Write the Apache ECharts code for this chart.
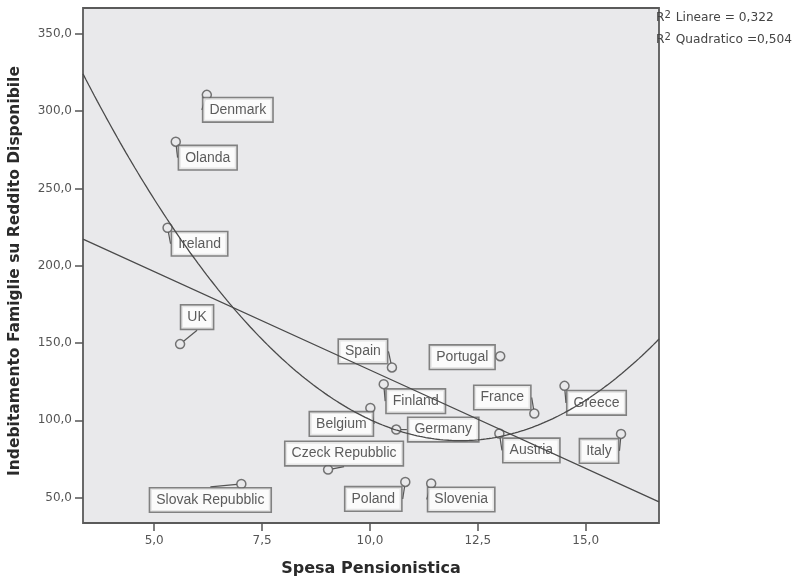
<!DOCTYPE html>
<html>
<head>
<meta charset="utf-8">
<script src="https://cdn.jsdelivr.net/npm/echarts@6/dist/echarts.min.js"></script>
<style>
  html, body { margin: 0; padding: 0; background: #ffffff; }
  #chart { width: 797px; height: 576px; }
</style>
</head>
<body>
<div id="chart"></div>
<script>
// Country observations: pension spending vs household debt on disposable income
const countries = ['Denmark', 'Olanda', 'Ireland', 'UK', 'Slovak Repubblic', 'Czeck Repubblic',
  'Belgium', 'Germany', 'Poland', 'Slovenia', 'France', 'Greece', 'Austria', 'Italy',
  'Spain', 'Portugal', 'Finland'];
const pensionSpending = [6.22, 5.50, 5.31, 5.60, 7.02, 9.03, 10.01, 10.61, 10.82, 11.42,
  13.81, 14.51, 13.00, 15.82, 10.51, 13.02, 10.32];
const householdDebt = [310.6, 280.3, 224.6, 149.3, 58.8, 68.1, 108.0, 94.0, 60.1, 59.1,
  104.4, 122.3, 91.5, 91.2, 134.2, 141.5, 123.4];

const xTicks = [5, 7.5, 10, 12.5, 15];
const yTicks = [50, 100, 150, 200, 250, 300, 350];

const r2Linear = '0,322';
const r2Quadratic = '0,504';

// Label box placement (pixel offset of each label centre from its point)
const labelOffsets = {
  'Denmark': [31, 15], 'Olanda': [32, 16], 'Ireland': [32, 16], 'UK': [17, -27],
  'Slovak Repubblic': [-31, 16], 'Czeck Repubblic': [16, -16], 'Belgium': [-29, 16],
  'Germany': [47, 0], 'Poland': [-32, 17], 'Slovenia': [30, 16], 'France': [-32, -16],
  'Greece': [32, 17], 'Austria': [32, 17], 'Italy': [-22, 17], 'Spain': [-29, -16],
  'Portugal': [-38, 1], 'Finland': [32, 17]
};

const X_MIN = 3.35, X_MAX = 16.7, Y_MIN = 33.55, Y_MAX = 366.8;

// Least-squares polynomial fit of given degree (normal equations)
function polyFit(xs, ys, degree) {
  const n = degree + 1;
  const A = Array.from({ length: n }, () => new Array(n + 1).fill(0));
  for (let k = 0; k < xs.length; k++) {
    for (let i = 0; i < n; i++) {
      for (let j = 0; j < n; j++) A[i][j] += Math.pow(xs[k], i + j);
      A[i][n] += ys[k] * Math.pow(xs[k], i);
    }
  }
  for (let c = 0; c < n; c++) {
    let p = c;
    for (let r = c + 1; r < n; r++) if (Math.abs(A[r][c]) > Math.abs(A[p][c])) p = r;
    [A[c], A[p]] = [A[p], A[c]];
    for (let r = 0; r < n; r++) {
      if (r === c) continue;
      const f = A[r][c] / A[c][c];
      for (let j = c; j <= n; j++) A[r][j] -= f * A[c][j];
    }
  }
  return A.map((row, i) => row[n] / row[i]);
}
function evalPoly(coef, x) {
  return coef.reduce((s, c, i) => s + c * Math.pow(x, i), 0);
}
function fitCurve(coef, steps) {
  const pts = [];
  for (let i = 0; i <= steps; i++) {
    const x = X_MIN + (X_MAX - X_MIN) * i / steps;
    pts.push([x, evalPoly(coef, x)]);
  }
  return pts;
}

const linCoef = polyFit(pensionSpending, householdDebt, 1);
const quadCoef = polyFit(pensionSpending, householdDebt, 2);

const points = countries.map((name, i) => ({ name, value: [pensionSpending[i], householdDebt[i]] }));

const fmt = v => v.toFixed(1).replace('.', ',');
const labelFont = '"Liberation Sans", Arial, sans-serif';
const axisFont = '"DejaVu Sans", Verdana, sans-serif';

const r2Rich = {
  s: { fontFamily: axisFont, fontSize: 12.2, fill: '#444' },
  sup: { fontFamily: axisFont, fontSize: 10, fill: '#444', padding: [0, 1, 6, 0] }
};

const chart = echarts.init(document.getElementById('chart'), null, { renderer: 'canvas' });
chart.setOption({
  animation: false,
  backgroundColor: '#ffffff',
  grid: {
    left: 83, right: 138, top: 8, bottom: 53,
    outerBoundsMode: 'none',
    show: true, backgroundColor: '#e9e9eb', borderColor: '#5a5a5a', borderWidth: 1.8
  },
  xAxis: {
    type: 'value', min: X_MIN, max: X_MAX,
    name: 'Spesa Pensionistica', nameLocation: 'middle', nameGap: 38,
    nameTextStyle: { fontFamily: axisFont, fontSize: 16, fontWeight: 'bold', color: '#2a2a2a' },
    axisLine: { show: false },
    splitLine: { show: false },
    axisTick: { show: true, customValues: xTicks, length: 8, lineStyle: { color: '#555', width: 1.5 } },
    axisLabel: { customValues: xTicks, formatter: fmt, fontFamily: axisFont, fontSize: 12, color: '#555', margin: 12 }
  },
  yAxis: {
    type: 'value', min: Y_MIN, max: Y_MAX,
    axisLine: { show: false },
    splitLine: { show: false },
    axisTick: { show: true, customValues: yTicks, length: 8, lineStyle: { color: '#555', width: 1.5 } },
    axisLabel: { customValues: yTicks, formatter: fmt, fontFamily: axisFont, fontSize: 12, color: '#555', margin: 11 }
  },
  series: [
    {
      type: 'scatter', data: points, symbol: 'circle', symbolSize: 9,
      itemStyle: { color: '#e9e9eb', borderColor: '#555', borderWidth: 1.5 },
      z: 2,
      label: {
        show: true, position: 'inside', formatter: p => p.name,
        fontFamily: labelFont, fontSize: 14, lineHeight: 16, color: '#333',
        backgroundColor: '#ffffff', borderColor: '#666', borderWidth: 1.6,
        padding: [4, 6, 3, 6]
      },
      labelLine: { show: true, lineStyle: { color: '#555', width: 1.2 } },
      labelLayout: p => {
        const off = labelOffsets[countries[p.dataIndex]] || [0, 0];
        return { dx: off[0], dy: off[1] };
      }
    },
    {
      type: 'line', data: fitCurve(linCoef, 2), showSymbol: false, silent: true,
      lineStyle: { color: '#4a4a4a', width: 1.3 }, z: 5
    },
    {
      type: 'line', data: fitCurve(quadCoef, 200), showSymbol: false, silent: true,
      lineStyle: { color: '#4a4a4a', width: 1.3 }, z: 5
    }
  ],
  graphic: [
    {
      type: 'text', x: 15, y: 271, rotation: Math.PI / 2,
      style: {
        text: 'Indebitamento Famiglie su Reddito Disponibile',
        fontFamily: axisFont, fontSize: 15.5, fontWeight: 'bold', fill: '#2a2a2a',
        align: 'center', verticalAlign: 'middle'
      }
    },
    {
      type: 'text', x: 656, y: 18,
      style: { text: '{s|R}{sup|2}{s| Lineare = ' + r2Linear + '}', rich: r2Rich, verticalAlign: 'middle' }
    },
    {
      type: 'text', x: 656, y: 40,
      style: { text: '{s|R}{sup|2}{s| Quadratico =' + r2Quadratic + '}', rich: r2Rich, verticalAlign: 'middle' }
    }
  ]
});
</script>
</body>
</html>
